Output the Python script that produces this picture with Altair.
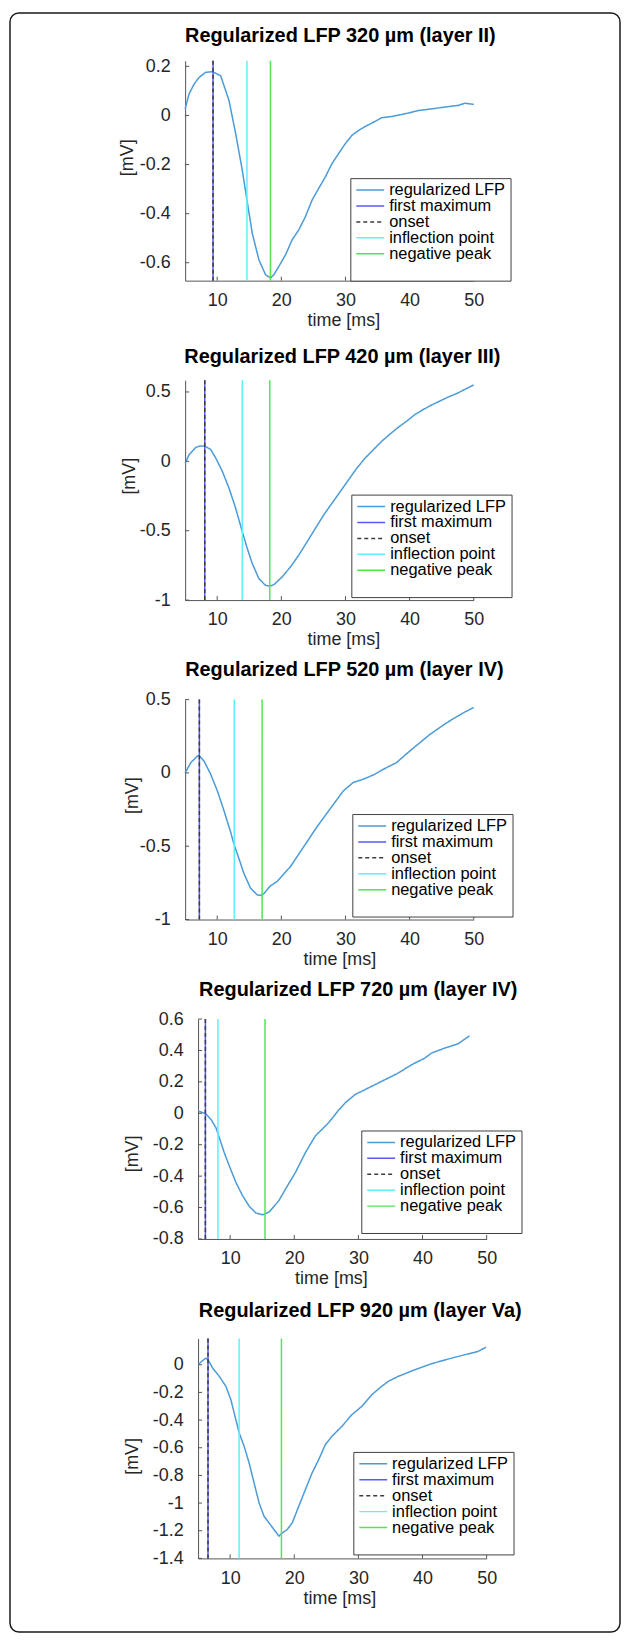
import altair as alt
import pandas as pd

FONT = "Liberation Sans, Arial, sans-serif"

SERIES = ["regularized LFP", "first maximum", "onset", "inflection point", "negative peak"]
MARKER_SERIES = SERIES[1:]
COLORS = ["#4a9bd8", "#5858ff", "#3c3c3c", "#5ff0ff", "#4ee84e"]
DASHES = [[1, 0], [1, 0], [4, 3], [1, 0], [1, 0]]

TITLES = [
    "Regularized LFP 320 µm (layer II)",
    "Regularized LFP 420 µm (layer III)",
    "Regularized LFP 520 µm (layer IV)",
    "Regularized LFP 720 µm (layer IV)",
    "Regularized LFP 920 µm (layer Va)",
]

X_DOMAIN = [5, 50]
X_TICKS = [10, 20, 30, 40, 50]

# ---- panel 1 ----
T1 = [5.0, 5.62, 6.40, 7.18, 8.21, 9.25, 10.54, 11.84, 12.88, 13.91, 14.64, 15.47, 16.50, 17.54,
      18.32, 18.83, 19.61, 20.65, 21.68, 22.72, 23.76, 24.79, 25.83, 26.87, 27.90, 28.94, 29.97,
      31.01, 32.05, 33.08, 34.12, 35.67, 37.23, 39.30, 41.37, 43.45, 46.04, 47.59, 48.63, 50.0]
V1 = [0.027, 0.088, 0.128, 0.155, 0.176, 0.178, 0.162, 0.061, -0.074, -0.223, -0.345, -0.480,
      -0.588, -0.649, -0.662, -0.649, -0.615, -0.568, -0.507, -0.466, -0.412, -0.345, -0.297,
      -0.250, -0.196, -0.155, -0.115, -0.081, -0.061, -0.045, -0.031, -0.009, -0.004, 0.007,
      0.020, 0.027, 0.036, 0.041, 0.050, 0.045]
M1 = [9.35, 9.35, 14.64, 18.3]
YD1 = [-0.673, 0.223]
YT1 = [-0.6, -0.4, -0.2, 0, 0.2]

# ---- panel 2 ----
T2 = [5.0, 5.62, 6.66, 7.44, 8.06, 8.99, 9.77, 10.80, 11.84, 12.88, 13.91, 14.69, 15.47, 16.50,
      17.54, 18.21, 18.83, 20.13, 21.42, 22.72, 24.02, 25.31, 26.61, 27.90, 29.20, 30.49, 31.79,
      33.08, 34.38, 35.67, 36.97, 38.26, 39.56, 40.85, 42.15, 43.45, 44.74, 46.04, 47.33, 48.63, 50.0]
V2 = [-0.012, 0.048, 0.101, 0.111, 0.109, 0.085, 0.024, -0.072, -0.193, -0.338, -0.507, -0.628,
      -0.737, -0.845, -0.894, -0.899, -0.889, -0.833, -0.761, -0.676, -0.580, -0.483, -0.386,
      -0.302, -0.217, -0.133, -0.048, 0.024, 0.085, 0.145, 0.198, 0.246, 0.290, 0.338, 0.374,
      0.406, 0.435, 0.464, 0.488, 0.519, 0.551]
M2 = [8.06, 8.06, 13.91, 18.2]
YD2 = [-1.0, 0.585]
YT2 = [-1, -0.5, 0, 0.5]

# ---- panel 3 ----
T3 = [5.0, 5.88, 6.91, 7.17, 7.95, 8.98, 10.02, 11.05, 12.09, 12.66, 13.38, 14.16, 15.19, 16.23,
      16.74, 17.26, 18.30, 19.33, 21.40, 23.47, 25.54, 27.61, 29.68, 31.23, 32.78, 34.33, 36.40,
      37.95, 40.02, 43.13, 45.71, 48.30, 50.0]
V3 = [0.0, 0.070, 0.115, 0.119, 0.081, -0.009, -0.122, -0.257, -0.403, -0.493, -0.583, -0.685,
      -0.786, -0.831, -0.836, -0.824, -0.770, -0.741, -0.640, -0.505, -0.369, -0.245, -0.122,
      -0.065, -0.043, -0.014, 0.036, 0.070, 0.149, 0.261, 0.340, 0.408, 0.446]
M3 = [7.22, 7.22, 12.66, 17.0]
YD3 = [-1.0, 0.5]
YT3 = [-1, -0.5, 0, 0.5]

# ---- panel 4 ----
T4 = [5.0, 6.14, 7.02, 7.79, 8.31, 9.08, 9.86, 10.89, 11.93, 12.96, 13.99, 15.03, 15.44, 16.06,
      17.61, 18.64, 20.19, 21.74, 23.29, 25.36, 26.91, 27.95, 29.50, 31.05, 32.60, 34.15, 36.21,
      38.28, 40.35, 41.38, 43.45, 45.52, 47.33]
V4 = [0.014, -0.001, -0.039, -0.092, -0.155, -0.25, -0.334, -0.439, -0.524, -0.591, -0.634,
      -0.646, -0.64, -0.629, -0.555, -0.482, -0.376, -0.25, -0.144, -0.06, 0.02, 0.067, 0.12,
      0.151, 0.183, 0.214, 0.256, 0.309, 0.351, 0.383, 0.415, 0.442, 0.493]
M4 = [6.14, 6.14, 8.1, 15.44]
YD4 = [-0.8, 0.6]
YT4 = [-0.8, -0.6, -0.4, -0.2, 0, 0.2, 0.4, 0.6]

# ---- panel 5 ----
T5 = [5.0, 5.72, 6.24, 6.55, 7.27, 8.31, 9.34, 10.12, 10.89, 11.41, 12.18, 12.96, 13.73, 14.51,
      15.28, 16.06, 16.83, 17.61, 18.02, 18.90, 19.68, 20.71, 21.74, 22.78, 23.81, 24.85, 25.88,
      27.43, 28.98, 30.53, 32.08, 33.63, 34.66, 36.21, 38.80, 41.38, 43.97, 46.55, 48.62, 49.91]
V5 = [0.0, 0.031, 0.048, 0.036, -0.024, -0.084, -0.156, -0.253, -0.397, -0.493, -0.589, -0.71,
      -0.854, -0.998, -1.095, -1.143, -1.191, -1.239, -1.22, -1.191, -1.143, -1.022, -0.902,
      -0.782, -0.686, -0.577, -0.517, -0.445, -0.361, -0.301, -0.217, -0.156, -0.12, -0.084,
      -0.036, 0.007, 0.041, 0.072, 0.096, 0.127]
M5 = [6.55, 6.55, 11.4, 18.0]
YD5 = [-1.4, 0.19]
YT5 = [-1.4, -1.2, -1, -0.8, -0.6, -0.4, -0.2, 0]

DATA = [(T1, V1, M1, YD1, YT1), (T2, V2, M2, YD2, YT2), (T3, V3, M3, YD3, YT3),
        (T4, V4, M4, YD4, YT4), (T5, V5, M5, YD5, YT5)]

# layout (pixels)
W, H = 290, 221
LAYOUT = [
    dict(shift=0, tdx=11, toff=-43.75, leg=(166, 118), yt=(-58, 97), xtx=159),
    dict(shift=0, tdx=13, toff=3, leg=(167, 115), yt=(-56, 96), xtx=159),
    dict(shift=0, tdx=15, toff=0.5, leg=(168, 115), yt=(-53, 96), xtx=155),
    dict(shift=13, tdx=22.5, toff=0.5, leg=(177, 112), yt=(-66, 135), xtx=146.5),
    dict(shift=13, tdx=24.5, toff=7, leg=(169, 114), yt=(-66, 118), xtx=155),
]
FRAME = dict(x=-176, x2=437, y=-48, y2=1579)
AXIS_COLOR = "#555555"
TEXT_COLOR = "#262626"
LABEL_EXPR = "datum.value < 0 ? '-' + format(-datum.value, '~g') : format(datum.value, '~g')"


def make_panel(i):
    t, v, m, ydom, yticks = DATA[i]
    L = LAYOUT[i]
    s = L["shift"]
    lfp = pd.DataFrame({"t": t, "v": v, "series": SERIES[0]})
    marks = pd.DataFrame({"t": m, "series": MARKER_SERIES})

    def legend():
        return alt.Legend(
            title=" ", titleOrient="bottom", titleFontSize=8, titlePadding=4.5,
            orient="none", legendX=L["leg"][0], legendY=L["leg"][1],
            fillColor="white", strokeColor="#404040", padding=5,
            symbolType="stroke", symbolSize=784, symbolStrokeWidth=1.5,
            labelFont=FONT, labelFontSize=16.5, labelColor="black", labelOffset=4,
            clipHeight=14, rowPadding=-7.5, labelLimit=300,
        )

    color = alt.Color("series:N", scale=alt.Scale(domain=SERIES, range=COLORS), legend=legend())
    dash = alt.StrokeDash("series:N", scale=alt.Scale(domain=SERIES, range=DASHES), legend=legend())
    xscale = alt.Scale(domain=X_DOMAIN, nice=False, zero=False, range=[s, W + s])
    yscale = alt.Scale(domain=ydom, nice=False, zero=False)
    xaxis = alt.Axis(values=X_TICKS, tickCount=20, title="time [ms]", titleX=L["xtx"], titleY=40,
                     titleBaseline="middle", titleAlign="center", labelPadding=11,
                     ticks=False, grid=False, labelFlush=False, labelOverlap=False)
    yaxis = alt.Axis(values=yticks, tickCount=20, title="[mV]", titleX=L["yt"][0],
                     titleY=L["yt"][1], titleAngle=270, titleBaseline="middle",
                     titleAlign="center", labelPadding=15, ticks=False, grid=False,
                     labelExpr=LABEL_EXPR, labelFlush=False, labelOverlap=False, offset=-s)

    line = alt.Chart(lfp).mark_line(strokeWidth=1.5).encode(
        x=alt.X("t:Q", scale=xscale, axis=xaxis),
        y=alt.Y("v:Q", scale=yscale, axis=yaxis),
        color=color, strokeDash=dash, order=alt.Order("t:Q"),
    )
    rules = alt.Chart(marks).mark_rule(strokeWidth=1.5).encode(
        x=alt.X("t:Q", scale=xscale), color=color, strokeDash=dash,
    )
    xt = alt.Chart(pd.DataFrame({"t": X_TICKS})).mark_rule(color=AXIS_COLOR, strokeWidth=1).encode(
        x=alt.X("t:Q", scale=xscale), y=alt.value(H), y2=alt.value(H - 4))
    yt = alt.Chart(pd.DataFrame({"v": yticks})).mark_rule(color=AXIS_COLOR, strokeWidth=1).encode(
        y=alt.Y("v:Q", scale=yscale), x=alt.value(s), x2=alt.value(s + 4))
    layers = [line, rules, xt, yt]
    if i == 0:
        frame = alt.Chart(pd.DataFrame({"f": [0]})).mark_rect(
            fillOpacity=0, stroke="#1a1a1a", strokeWidth=1.5, cornerRadius=9
        ).encode(x=alt.value(FRAME["x"]), x2=alt.value(FRAME["x2"]),
                 y=alt.value(FRAME["y"]), y2=alt.value(FRAME["y2"]))
        layers.append(frame)
    return alt.layer(*layers).properties(
        width=W + s, height=H,
        title=alt.TitleParams(text=TITLES[i], font=FONT, fontSize=20, fontWeight="bold",
                              color="black", anchor="middle", frame="group",
                              baseline="middle", offset=L["toff"], dx=L["tdx"]),
    )


chart = alt.vconcat(*[make_panel(i) for i in range(5)], spacing=100, bounds="flush").resolve_scale(
    x="independent", y="independent", color="independent", strokeDash="independent"
).resolve_legend(color="independent", strokeDash="independent").properties(
    padding={"left": 1, "top": 0, "right": 0, "bottom": 0}, background="white"
).configure_view(stroke=None).configure_axis(
    labelFont=FONT, labelFontSize=18, labelColor=TEXT_COLOR,
    titleFont=FONT, titleFontSize=18, titleFontWeight="normal", titleColor=TEXT_COLOR,
    domainColor=AXIS_COLOR, domainWidth=1,
)

chart.save("out.html", embed_options={"renderer": "svg", "actions": False})
